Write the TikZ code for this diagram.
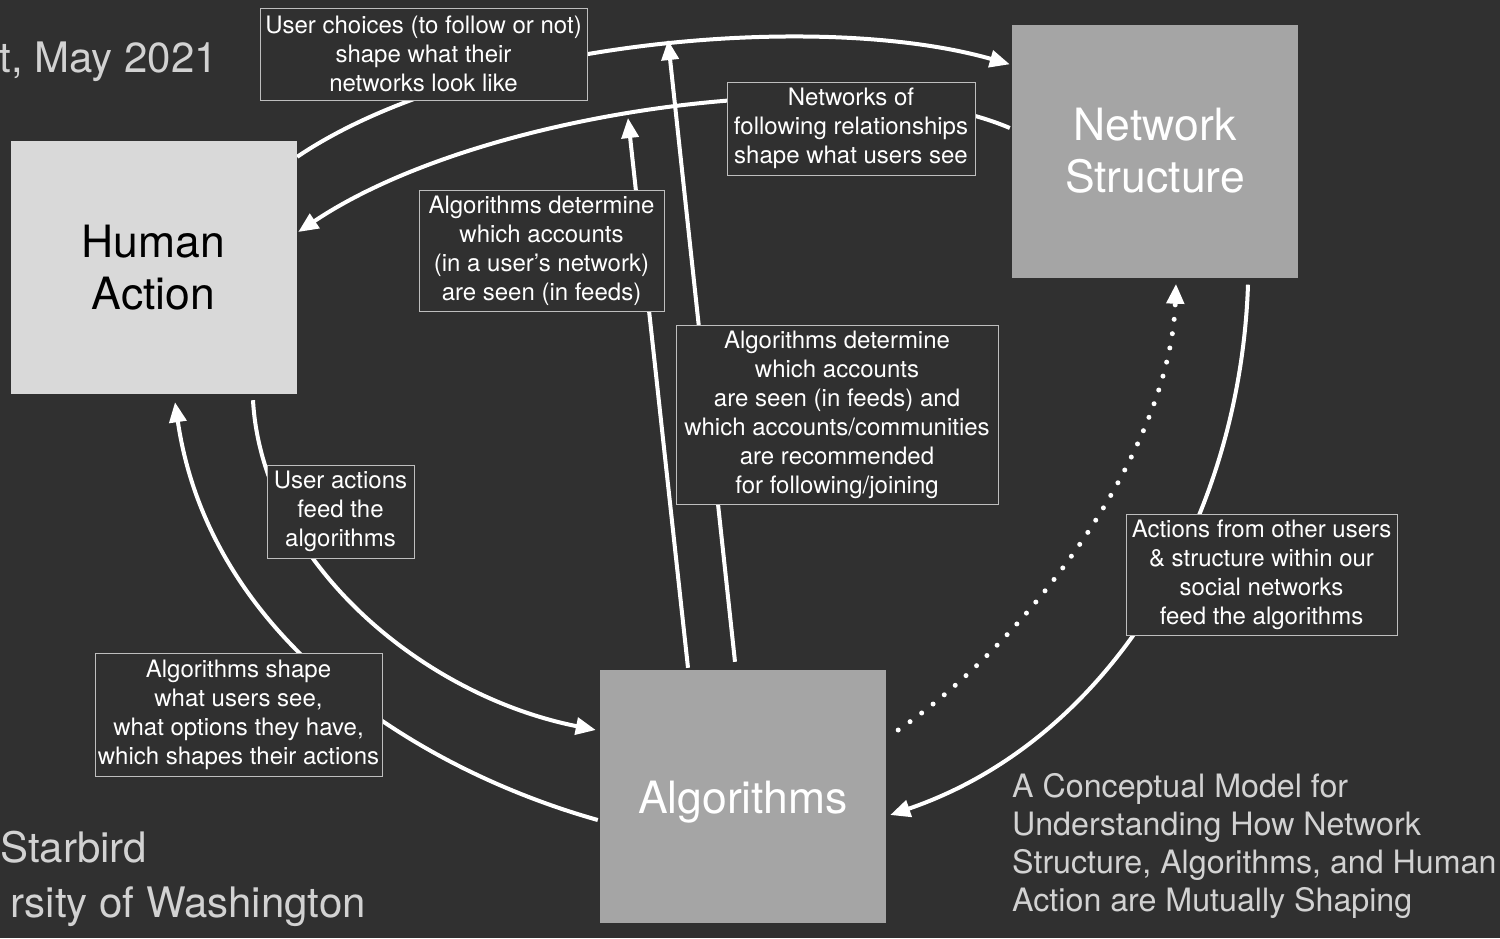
\documentclass[tikz,border=0pt]{standalone}
\usepackage{fontspec}
\setmainfont{TeX Gyre Heros}
\usetikzlibrary{arrows.meta,calc}
\definecolor{bg}{HTML}{303030}
\definecolor{lightbox}{HTML}{D9D9D9}
\definecolor{midbox}{HTML}{A5A5A5}
\definecolor{lblborder}{HTML}{BEBEBE}
\definecolor{dimtext}{HTML}{D2D2D2}
\pgfdeclarelayer{bglayer}
\pgfdeclarelayer{edgelayer}
\pgfsetlayers{bglayer,edgelayer,main}
\begin{document}
\begin{tikzpicture}[x=1pt,y=-1pt,
  bigbox/.style={minimum width=286pt,minimum height=253pt,inner sep=0pt,align=center,font=\fontsize{44.5}{52}\selectfont},
  lbl/.style={draw=lblborder,line width=1pt,fill=bg,text=white,align=center,inner sep=0pt,font=\fontsize{24}{29}\selectfont},
  conn/.style={draw=white,line width=4pt,-{Triangle[length=20pt,width=17pt]}},
  dotconn/.style={draw=white,line width=5pt,line cap=round,dash pattern=on 0pt off 14.5pt,-{Triangle[length=20pt,width=17pt]}},
  side/.style={text=dimtext,inner sep=0pt,font=\fontsize{42}{50}\selectfont}]
\begin{pgfonlayer}{bglayer}
\fill[bg] (0,0) rectangle (1500,938);
\end{pgfonlayer}
\useasboundingbox (0,0) rectangle (1500,938);

% main boxes
\node[bigbox,fill=lightbox,text=black] (ha) at (153.5,267.5) {Human\\Action};
\node[bigbox,fill=midbox,text=white] (ns) at (1155,151) {Network\\Structure};
\node[bigbox,fill=midbox,text=white,align=none,text height=33pt,text depth=0pt] (al) at (743,796.5) {Algorithms};

% label boxes
\node[lbl,minimum width=327pt,minimum height=92pt] (l1) at (423.5,54) {User choices (to follow or not)\\shape what their\\networks look like};
\node[lbl,minimum width=248pt,minimum height=93pt] (l2) at (851,128.5) {Networks of\\following relationships\\shape what users see};
\node[lbl,minimum width=245pt,minimum height=121pt] (l3) at (541.5,250.5) {Algorithms determine\\which accounts\\(in a user’s network)\\are seen (in feeds)};
\node[lbl,minimum width=322pt,minimum height=179pt] (l4) at (837,414.5) {Algorithms determine\\which accounts\\are seen (in feeds) and\\which accounts/communities\\are recommended\\for following/joining};
\node[lbl,minimum width=147pt,minimum height=93pt] (l5) at (340.5,511.5) {User actions\\feed the\\algorithms};
\node[lbl,minimum width=287pt,minimum height=123pt] (l6) at (238.5,714.5) {Algorithms shape\\what users see,\\what options they have,\\which shapes their actions};
\node[lbl,minimum width=271pt,minimum height=121pt] (l7) at (1261.5,574.5) {Actions from other users\\\& structure within our\\social networks\\feed the algorithms};

% side texts
\node[side,anchor=base east] (date) at (218,72) {t, May 2021};
\node[side,anchor=base west] (name) at (0,862) {Starbird};
\node[side,anchor=base east] (univ) at (366,917) {rsity of Washington};
\node[anchor=north west,text=dimtext,align=left,inner sep=0pt,font=\fontsize{32.2}{38}\selectfont] (cap) at (1012,773) {A Conceptual Model for\\Understanding How Network\\Structure, Algorithms, and Human\\Action are Mutually Shaping};

% free ends
\coordinate (tipC) at (628,118);
\coordinate (tipD) at (668,40);

\begin{pgfonlayer}{edgelayer}
\draw[conn] ($(ha.north east)+(0.5,16)$) .. controls (470,40) and (820,10) .. ($(ns.north west)+(-2,40)$);
\draw[conn] ($(ns.west)+(-2,-23)$) .. controls (850,60) and (480,110) .. ($(ha.east)+(1.5,-35.5)$);
\draw[conn] ($(al.north)+(-55,-2)$) -- (tipC);
\draw[conn] ($(al.north)+(-8,-8)$) -- (tipD);
\draw[conn] ($(ha.south)+(99.5,6)$) .. controls (262,560) and (420,695) .. ($(al.west)+(-4,-66.5)$);
\draw[conn] ($(al.west)+(-2,23.5)$) .. controls (420,770) and (210,640) .. ($(ha.south)+(21.5,8)$);
\draw[conn] ($(ns.south)+(93,7)$) .. controls (1240,520) and (1110,740) .. ($(al.east)+(4,18.5)$);
\draw[dotconn] ($(al.east)+(12,-66.5)$) .. controls (1030,640) and (1170,450) .. ($(ns.south)+(21,6)$);
\end{pgfonlayer}
\end{tikzpicture}
\end{document}
